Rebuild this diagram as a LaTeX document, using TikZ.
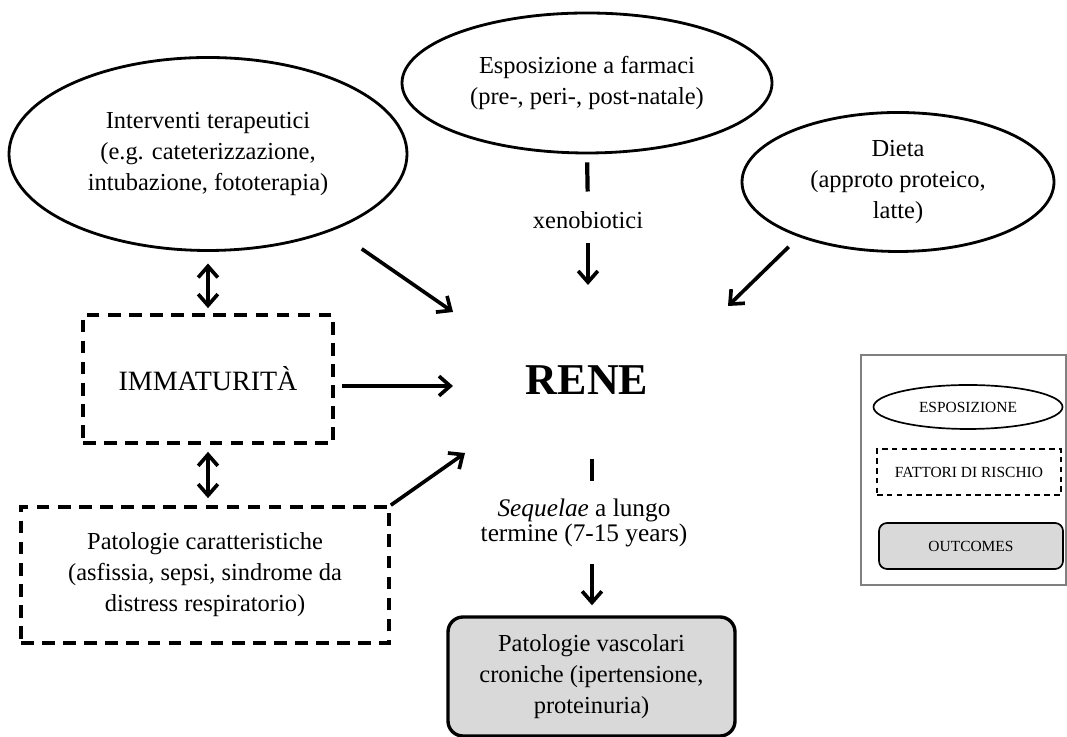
\documentclass[tikz,border=0pt]{standalone}
\usepackage{fontspec}
\setmainfont{Liberation Serif}
\usetikzlibrary{shapes.geometric,arrows.meta}
\definecolor{outfill}{RGB}{217,217,217}
\newcommand{\boxfont}{\fontsize{17.4}{22}\selectfont}
\newcommand{\legfont}{\fontsize{11}{13}\selectfont}

\begin{document}
\begin{tikzpicture}[
  expo/.style={ellipse, draw, line width=2pt, inner sep=0pt, align=center, font=\boxfont},
  risk/.style={rectangle, draw, dash pattern=on 9pt off 6pt, line width=2.6pt, inner sep=0pt, align=center, font=\boxfont},
  outcome/.style={rectangle, draw, rounded corners=0.375cm, fill=outfill, line width=2.4pt, inner sep=0pt, align=center, font=\boxfont},
  arrow/.style={-{Straight Barb[length=8pt,width=14pt]}, line width=2.6pt},
  biarrow/.style={{Straight Barb[length=8pt,width=14pt]}-{Straight Barb[length=8pt,width=14pt]}, line width=2.6pt},
  link/.style={line width=3pt}
]
  \useasboundingbox (0,0) rectangle (26.675,18.425);

  % Exposures (top)
  \node[expo, minimum width=9.95cm, minimum height=4.825cm] (interv) at (5.2,14.575) {Interventi terapeutici\\(e.g. cateterizzazione,\\intubazione, fototerapia)};
  \node[expo, minimum width=9.25cm, minimum height=3.5cm] (espo) at (14.675,16.35) {Esposizione a farmaci\\(pre-, peri-, post-natale)};
  \node[expo, minimum width=7.8cm, minimum height=3.475cm] (dieta) at (22.45,13.875) {Dieta\\(approto proteico,\\latte)};
  \node[inner sep=0pt, font=\boxfont] (xeno) at (14.7,12.925) {xenobiotici};

  % Kidney
  \node[inner sep=0pt, font=\fontsize{31.3}{36}\selectfont\bfseries] (rene) at (14.675,8.925) {RENE};

  % Risk factors
  \node[risk, minimum width=6.25cm, minimum height=3.2cm, font=\fontsize{19.9}{24}\selectfont] (immat) at (5.2,8.95) {IMMATURITÀ};
  \node[risk, minimum width=9.2cm, minimum height=3.4cm] (patol) at (5.125,4.05) {Patologie caratteristiche\\(asfissia, sepsi, sindrome da\\distress respiratorio)};

  % Outcome
  \node[inner sep=0pt, align=center, font=\fontsize{18}{18}\selectfont] (seq) at (14.6,5.35) {\textit{Sequelae} a lungo\\termine (7-15 years)};
  \node[outcome, minimum width=7.175cm, minimum height=2.975cm] (outc) at (14.7875,1.5125) {Patologie vascolari\\croniche (ipertensione,\\proteinuria)};

  % Legend
  \node[draw=gray, line width=0.8pt, minimum width=5.125cm, minimum height=5.75cm] (legend) at (24.0875,6.675) {};
  \node[ellipse, draw, line width=1.2pt, inner sep=0pt, minimum width=4.725cm, minimum height=1.1cm, font=\legfont] (legexpo) at (24.2,8.25) {ESPOSIZIONE};
  \node[rectangle, draw, dash pattern=on 4pt off 3pt, line width=1.2pt, minimum width=4.6cm, minimum height=1.15cm, font=\legfont] (legrisk) at (24.225,6.625) {FATTORI DI RISCHIO};
  \node[rectangle, draw, rounded corners=0.2cm, fill=outfill, line width=1.2pt, minimum width=4.6cm, minimum height=1.15cm, font=\legfont] (legout) at (24.275,4.775) {OUTCOMES};

  % Arrow ends around RENE
  \coordinate (inInterv) at (11.325,10.625);
  \coordinate (inImmat) at (11.325,8.775);
  \coordinate (inPatol) at (11.625,7.1);
  \coordinate (inXeno) at (14.7,11.3);
  \coordinate (inDieta) at (18.2,10.775);
  \coordinate (outRene) at (14.8,6.95);

  % Arrows
  \draw[arrow, shorten <=0.83cm] (interv.-31) -- (inInterv);
  \draw[arrow, shorten <=0.35cm] (dieta.209) -- (inDieta);
  \draw[arrow, shorten <=0.175cm] (immat.east |- inImmat) -- (inImmat);
  \draw[arrow] (patol.north east) -- (inPatol);
  \draw[link, shorten <=0.2cm, shorten >=0.49cm] (espo.south) -- (xeno.north);
  \draw[arrow, shorten <=0.365cm] (xeno.south) -- (inXeno);
  \draw[biarrow, shorten <=0.29cm, shorten >=0.125cm] (interv.south) -- (immat.north);
  \draw[biarrow, shorten <=0.175cm, shorten >=0.175cm] (immat.south) -- (immat.south |- patol.north);
  \draw[link, shorten >=0.435cm] (outRene) -- (outRene |- seq.north);
  \draw[arrow, shorten <=0.41cm, shorten >=0.25cm] (outRene |- seq.south) -- (outRene |- outc.north);
\end{tikzpicture}
\end{document}
